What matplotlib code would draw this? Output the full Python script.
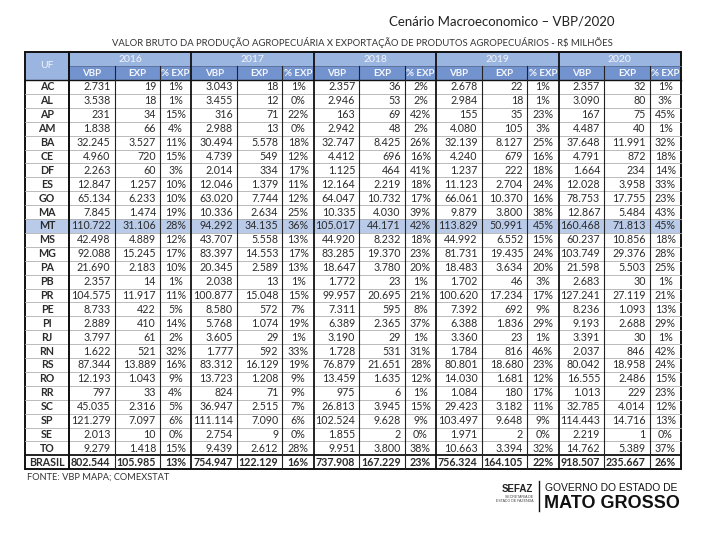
import matplotlib
matplotlib.use("Agg")
import matplotlib.pyplot as plt
from matplotlib.patches import Rectangle

plt.rcParams["font.family"] = ["Lato", "DejaVu Sans"]

TITLE = "Cenário Macroeconomico – VBP/2020"
SUBTITLE = "VALOR BRUTO DA PRODUÇÃO AGROPECUÁRIA X EXPORTAÇÃO DE PRODUTOS AGROPECUÁRIOS - R$ MILHÕES"
SOURCE = "FONTE: VBP MAPA; COMEXSTAT"

ufs = ["AC", "AL", "AP", "AM", "BA", "CE", "DF", "ES", "GO", "MA", "MT", "MS", "MG", "PA",
       "PB", "PR", "PE", "PI", "RJ", "RN", "RS", "RO", "RR", "SC", "SP", "SE", "TO", "BRASIL"]
years = ["2016", "2017", "2018", "2019", "2020"]
sub_cols = ["VBP", "EXP", "% EXP"]

vbp_2016 = [2731, 3538, 231, 1838, 32245, 4960, 2263, 12847, 65134, 7845, 110722, 42498, 92088, 21690,
            2357, 104575, 8733, 2889, 3797, 1622, 87344, 12193, 797, 45035, 121279, 2013, 9279, 802544]
exp_2016 = [19, 18, 34, 66, 3527, 720, 60, 1257, 6233, 1474, 31106, 4889, 15245, 2183,
            14, 11917, 422, 410, 61, 521, 13889, 1043, 33, 2316, 7097, 10, 1418, 105985]
pct_2016 = [1, 1, 15, 4, 11, 15, 3, 10, 10, 19, 28, 12, 17, 10, 1, 11, 5, 14, 2, 32, 16, 9, 4, 5, 6, 0, 15, 13]

vbp_2017 = [3043, 3455, 316, 2988, 30494, 4739, 2014, 12046, 63020, 10336, 94292, 43707, 83397, 20345,
            2038, 100877, 8580, 5768, 3605, 1777, 83312, 13723, 824, 36947, 111114, 2754, 9439, 754947]
exp_2017 = [18, 12, 71, 13, 5578, 549, 334, 1379, 7744, 2634, 34135, 5558, 14553, 2589,
            13, 15048, 572, 1074, 29, 592, 16129, 1208, 71, 2515, 7090, 9, 2612, 122129]
pct_2017 = [1, 0, 22, 0, 18, 12, 17, 11, 12, 25, 36, 13, 17, 13, 1, 15, 7, 19, 1, 33, 19, 9, 9, 7, 6, 0, 28, 16]

vbp_2018 = [2357, 2946, 163, 2942, 32747, 4412, 1125, 12164, 64047, 10335, 105017, 44920, 83285, 18647,
            1772, 99957, 7311, 6389, 3190, 1728, 76879, 13459, 975, 26813, 102524, 1855, 9951, 737908]
exp_2018 = [36, 53, 69, 48, 8425, 696, 464, 2219, 10732, 4030, 44171, 8232, 19370, 3780,
            23, 20695, 595, 2365, 29, 531, 21651, 1635, 6, 3945, 9628, 2, 3800, 167229]
pct_2018 = [2, 2, 42, 2, 26, 16, 41, 18, 17, 39, 42, 18, 23, 20, 1, 21, 8, 37, 1, 31, 28, 12, 1, 15, 9, 0, 38, 23]

vbp_2019 = [2678, 2984, 155, 4080, 32139, 4240, 1237, 11123, 66061, 9879, 113829, 44992, 81731, 18483,
            1702, 100620, 7392, 6388, 3360, 1784, 80801, 14030, 1084, 29423, 103497, 1971, 10663, 756324]
exp_2019 = [22, 18, 35, 105, 8127, 679, 222, 2704, 10370, 3800, 50991, 6552, 19435, 3634,
            46, 17234, 692, 1836, 23, 816, 18680, 1681, 180, 3182, 9648, 2, 3394, 164105]
pct_2019 = [1, 1, 23, 3, 25, 16, 18, 24, 16, 38, 45, 15, 24, 20, 3, 17, 9, 29, 1, 46, 23, 12, 17, 11, 9, 0, 32, 22]

vbp_2020 = [2357, 3090, 167, 4487, 37648, 4791, 1664, 12028, 78753, 12867, 160468, 60237, 103749, 21598,
            2683, 127241, 8236, 9193, 3391, 2037, 80042, 16555, 1013, 32785, 114443, 2219, 14762, 918507]
exp_2020 = [32, 80, 75, 40, 11991, 872, 234, 3958, 17755, 5484, 71813, 10856, 29376, 5503,
            30, 27119, 1093, 2688, 30, 846, 18958, 2486, 229, 4014, 14716, 1, 5389, 235667]
pct_2020 = [1, 3, 45, 1, 32, 18, 14, 33, 23, 43, 45, 18, 28, 25, 1, 21, 13, 29, 1, 42, 24, 15, 23, 12, 13, 0, 37, 26]

blocks = [
    (vbp_2016, exp_2016, pct_2016),
    (vbp_2017, exp_2017, pct_2017),
    (vbp_2018, exp_2018, pct_2018),
    (vbp_2019, exp_2019, pct_2019),
    (vbp_2020, exp_2020, pct_2020),
]
highlight = "MT"

# layout in pixels
X0 = 25
UF_W = 44
SUB_W = [45.5, 45.5, 31.4]
BLOCK_W = sum(SUB_W)
HEAD_TOP = 52
HEAD_MID = 66
HEAD_BOT = 80
ROW_H = 13.9

YEAR_BG = "#9ab5df"
SUB_BG = "#7393cf"
HL_BG = "#b9cbe8"
TXT = "#2b2b2b"


def fmt(v):
    return f"{v:,}".replace(",", ".")


fig = plt.figure(figsize=(7.2, 5.4), dpi=100)
ax = fig.add_axes([0, 0, 1, 1])
ax.set_xlim(0, 720)
ax.set_ylim(540, 0)
ax.axis("off")

x_end = X0 + UF_W + BLOCK_W * len(years)
y_end = HEAD_BOT + ROW_H * len(ufs)

ax.text(502, 22, TITLE, ha="center", va="center", fontsize=9.5, color="#222222")
ax.text(362, 43, SUBTITLE, ha="center", va="center", fontsize=6.8, color="#333333")

# header backgrounds
ax.add_patch(Rectangle((X0, HEAD_TOP), x_end - X0, HEAD_MID - HEAD_TOP, fc=YEAR_BG, ec="none"))
ax.add_patch(Rectangle((X0 + UF_W, HEAD_MID), x_end - X0 - UF_W, HEAD_BOT - HEAD_MID, fc=SUB_BG, ec="none"))
ax.add_patch(Rectangle((X0, HEAD_MID), UF_W, HEAD_BOT - HEAD_MID, fc=YEAR_BG, ec="none"))
ax.text(X0 + UF_W / 2, (HEAD_TOP + HEAD_BOT) / 2, "UF", ha="center", va="center",
        fontsize=7.5, color="#f4f6fb")

for b, year in enumerate(years):
    bx = X0 + UF_W + b * BLOCK_W
    ax.text(bx + BLOCK_W / 2, (HEAD_TOP + HEAD_MID) / 2, year, ha="center", va="center",
            fontsize=7.5, color="#f4f6fb")
    sx = bx
    for s, name in enumerate(sub_cols):
        ax.text(sx + SUB_W[s] / 2, (HEAD_MID + HEAD_BOT) / 2, name, ha="center", va="center",
                fontsize=7, color="#f4f6fb", fontweight="bold")
        sx += SUB_W[s]

# rows
for i, uf in enumerate(ufs):
    top = HEAD_BOT + i * ROW_H
    yc = top + ROW_H / 2
    if uf == highlight:
        ax.add_patch(Rectangle((X0, top), x_end - X0, ROW_H, fc=HL_BG, ec="none"))
    bold = uf == "BRASIL"
    ax.text(X0 + UF_W / 2, yc, uf, ha="center", va="center", fontsize=7.7, color=TXT, fontweight="bold")
    for b, (vbp, exp, pct) in enumerate(blocks):
        bx = X0 + UF_W + b * BLOCK_W
        w = "bold" if bold else "normal"
        ax.text(bx + SUB_W[0] - 4, yc, fmt(vbp[i]), ha="right", va="center", fontsize=7.7, color=TXT, fontweight=w)
        ax.text(bx + SUB_W[0] + SUB_W[1] - 4, yc, fmt(exp[i]), ha="right", va="center", fontsize=7.7,
                color=TXT, fontweight=w)
        ax.text(bx + SUB_W[0] + SUB_W[1] + SUB_W[2] / 2, yc, f"{pct[i]}%", ha="center", va="center",
                fontsize=7.7, color=TXT, fontweight=w)
    if 0 < i < len(ufs) - 1:
        ax.plot([X0, x_end], [top, top], color="#b0b0b0", lw=0.6)

# grid lines
ax.plot([X0 + UF_W, x_end], [HEAD_MID, HEAD_MID], color="#5a6f96", lw=0.6)
ax.plot([X0, x_end], [HEAD_BOT, HEAD_BOT], color="#111111", lw=1.0)
ax.plot([X0, x_end], [y_end - ROW_H, y_end - ROW_H], color="#111111", lw=1.3)
ax.plot([X0 + UF_W] * 2, [HEAD_TOP, y_end], color="#111111", lw=1.3)
for b in range(len(years)):
    bx = X0 + UF_W + b * BLOCK_W
    ax.plot([bx] * 2, [HEAD_TOP, y_end], color="#111111", lw=1.3)
    ax.plot([bx + SUB_W[0]] * 2, [HEAD_MID, y_end], color="#222222", lw=0.8)
    ax.plot([bx + SUB_W[0] + SUB_W[1]] * 2, [HEAD_MID, y_end], color="#222222", lw=0.8)
ax.add_patch(Rectangle((X0, HEAD_TOP), x_end - X0, y_end - HEAD_TOP, fc="none", ec="#111111", lw=1.4))

ax.text(X0 + 2, y_end + 8, SOURCE, ha="left", va="center", fontsize=6.7, color="#333333")

# logo text
ax.plot([539, 539], [481, 511], color="#111111", lw=1.0)
ax.text(533, 489, "SEFAZ", ha="right", va="center", fontsize=7, fontweight="bold",
        family=["Liberation Sans", "DejaVu Sans"], color="#222222")
ax.text(533, 496.5, "SECRETARIA DE", ha="right", va="center", fontsize=2.6,
        family=["Liberation Sans", "DejaVu Sans"], color="#444444")
ax.text(533, 501, "ESTADO DE FAZENDA", ha="right", va="center", fontsize=2.6,
        family=["Liberation Sans", "DejaVu Sans"], color="#444444")
ax.text(545, 488, "GOVERNO DO ESTADO DE", ha="left", va="center", fontsize=7.4,
        family=["Liberation Sans", "DejaVu Sans"], color="#111111")
ax.text(544, 503, "MATO GROSSO", ha="left", va="center", fontsize=13, fontweight="bold",
        family=["Liberation Sans", "DejaVu Sans"], color="#111111")

fig.savefig("out.png", dpi=100, facecolor="white")
